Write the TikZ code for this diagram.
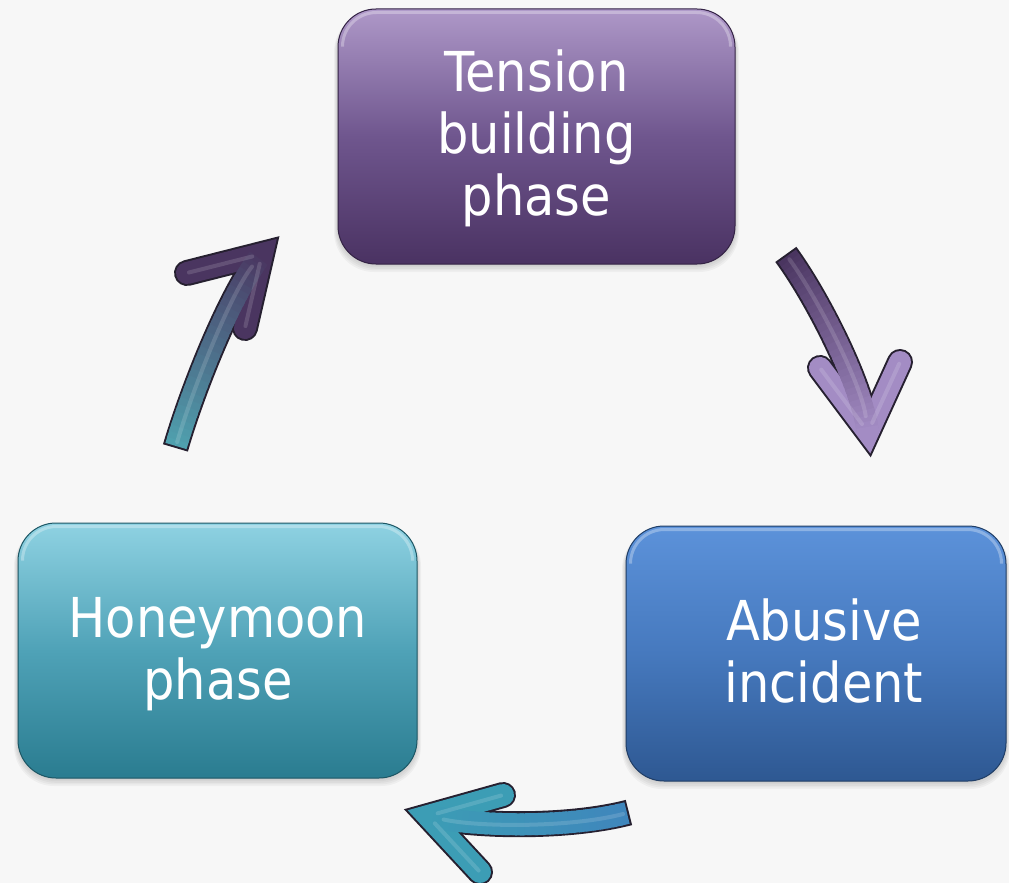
\documentclass[tikz,border=0pt]{standalone}
\usepackage{fontspec}
\setmainfont{DejaVu Sans Condensed}
\usetikzlibrary{calc}
\definecolor{bgc}{HTML}{F7F7F7}
\definecolor{tbTop}{HTML}{AE98C8}
\definecolor{tbMid}{HTML}{6F568E}
\definecolor{tbBot}{HTML}{4A3262}
\definecolor{abTop}{HTML}{5C92DA}
\definecolor{abMid}{HTML}{4679BE}
\definecolor{abBot}{HTML}{2E5892}
\definecolor{hmTop}{HTML}{8FD2E2}
\definecolor{hmMid}{HTML}{4FA2B7}
\definecolor{hmBot}{HTML}{2A7C90}
\definecolor{arDark}{HTML}{4A3560}
\definecolor{arLav}{HTML}{A38CC4}
\definecolor{arTeal}{HTML}{3C9DB5}
\definecolor{arBlue}{HTML}{3F86BC}
\definecolor{arTealB}{HTML}{4FA0AE}
\definecolor{outl}{HTML}{262030}

\tikzset{
  phasebox/.style={rounded corners=38pt, inner sep=0pt, line width=1pt},
  phasetext/.style={text=white, align=center, font=\fontsize{55}{62}\selectfont, inner sep=0pt},
  arrowedge/.style={draw=outl, line width=26pt},
  gloss/.style={draw=white, opacity=0.3, line width=3pt, rounded corners=34pt, line cap=round},
}

\newcommand{\boxshadow}[4]{%
  \foreach \k in {1,...,5}{%
    \fill[black, opacity=0.035, rounded corners=40pt] (#1-\k*0.8, #2+3) rectangle (#3+\k*0.8, #4+\k*1.6);
  }%
}

\newcommand{\cyclearrow}[9]{%
  \draw[arrowedge, line cap=butt] ($(#1)!-2pt!(#2)$) .. controls (#2) and (#3) .. (#4);
  \draw[arrowedge, line cap=round, line join=miter] (#5) -- (#4) -- (#6);
  \draw[line width=22pt, draw=#9, line cap=round, line join=miter] (#5) -- (#4) -- (#6);
  \foreach \i in {0,...,29}{%
    \pgfmathsetmacro{\ta}{\i/30}%
    \pgfmathsetmacro{\tm}{(\i+0.8)/30}%
    \pgfmathsetmacro{\tb}{min(1,(\i+1.6)/30)}%
    \pgfmathsetmacro{\mv}{100*\i/29}%
    \path (#1) .. controls (#2) and (#3) .. (#4) coordinate[pos=\ta] (qa) coordinate[pos=\tm] (qm) coordinate[pos=\tb] (qb);
    \draw[line width=22pt, draw=#8!\mv!#7, line join=round] (qa) -- (qm) -- (qb);
  }%
  \draw[white, opacity=.14, line width=4pt, line cap=round] ($(#1)!4pt!(#2)$) .. controls (#2) and (#3) .. ($(#4)!16pt!(#3)$);
  \draw[white, opacity=.14, line width=4pt, line cap=round] ($(#5)!2pt!(#4)$) -- ($(#4)!10pt!(#5)$);
  \draw[white, opacity=.14, line width=4pt, line cap=round] ($(#6)!2pt!(#4)$) -- ($(#4)!10pt!(#6)$);
}

\begin{document}
\begin{tikzpicture}[x=1pt, y=-1pt]
\path[use as bounding box, fill=bgc] (0,0) rectangle (1009,883);

% ---- boxes ----
\boxshadow{338}{9}{735}{264}
\node[phasebox, minimum width=397pt, minimum height=255pt, draw=tbBot!70!black,
      top color=tbTop, bottom color=tbBot, middle color=tbMid] (tension) at (536.5,136.5) {};
\draw[gloss] ($(tension.north west)+(5,34)$) -- ($(tension.north west)+(5,4)$) -- ($(tension.north east)+(-5,4)$) -- ($(tension.north east)+(-5,34)$);
\node[phasetext] (tensiontext) at (536.5,138.5) {Tension\\building\\phase};

\boxshadow{626}{526}{1006}{781}
\node[phasebox, minimum width=380pt, minimum height=255pt, draw=abBot!70!black,
      top color=abTop, bottom color=abBot, middle color=abMid] (abusive) at (816,653.5) {};
\draw[gloss] ($(abusive.north west)+(5,34)$) -- ($(abusive.north west)+(5,4)$) -- ($(abusive.north east)+(-5,4)$) -- ($(abusive.north east)+(-5,34)$);
\node[phasetext] (abusivetext) at (824,650.5) {Abusive\\incident};

\boxshadow{18}{523}{417}{778}
\node[phasebox, minimum width=399pt, minimum height=255pt, draw=hmBot!70!black,
      top color=hmTop, bottom color=hmBot, middle color=hmMid] (honeymoon) at (217.5,650.5) {};
\draw[gloss] ($(honeymoon.north west)+(5,34)$) -- ($(honeymoon.north west)+(5,4)$) -- ($(honeymoon.north east)+(-5,4)$) -- ($(honeymoon.north east)+(-5,34)$);
\node[phasetext] (honeymoontext) at (218,654.5) {Honeymoon\\phase};

% ---- arrows ----
\coordinate (a1s) at (787,256);
\coordinate (a1c) at (817,297);
\coordinate (a1d) at (861,383);
\coordinate (a1t) at (868,432);
\coordinate (a1p) at (820,368);
\coordinate (a1q) at (900,362);
\cyclearrow{a1s}{a1c}{a1d}{a1t}{a1p}{a1q}{arDark}{arLav}{arLav}

\coordinate (a2s) at (627,813);
\coordinate (a2c) at (569,828);
\coordinate (a2d) at (477,827);
\coordinate (a2t) at (428,816);
\coordinate (a2p) at (503,795);
\coordinate (a2q) at (480,872);
\cyclearrow{a2s}{a2c}{a2d}{a2t}{a2p}{a2q}{arBlue}{arTeal}{arTeal}

\coordinate (a3s) at (176,446);
\coordinate (a3c) at (193,388);
\coordinate (a3d) at (231,293);
\coordinate (a3t) at (262,254);
\coordinate (a3p) at (187,273);
\coordinate (a3q) at (245,328);
\cyclearrow{a3s}{a3c}{a3d}{a3t}{a3p}{a3q}{arTealB}{arDark}{arDark}
\end{tikzpicture}
\end{document}
